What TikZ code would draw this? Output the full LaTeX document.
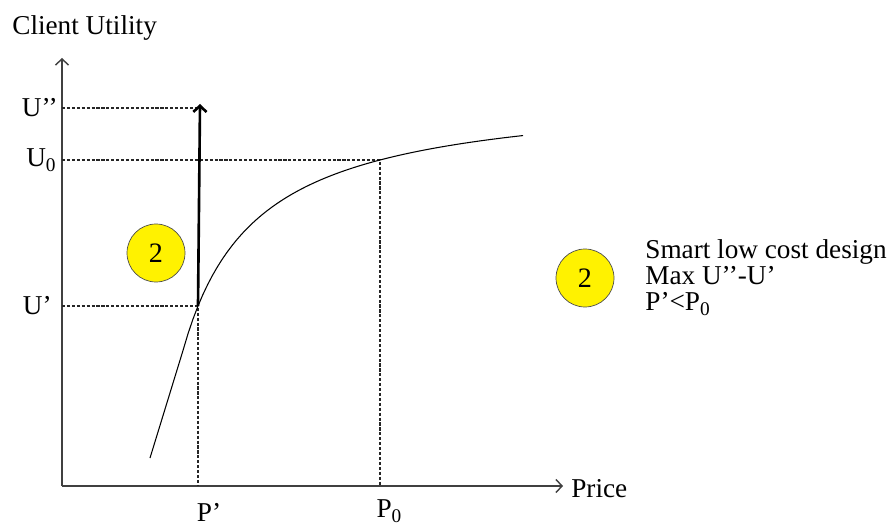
\documentclass[tikz,border=0pt]{standalone}
\usepackage{fontspec}
\setmainfont{Liberation Serif}
\usetikzlibrary{positioning,arrows.meta}
\newcommand{\lowsub}[1]{\raisebox{-0.4ex}{\fontsize{11}{11}\selectfont #1}}

\begin{document}
\begin{tikzpicture}[x=0.02cm,y=-0.02cm,
  lbl/.style={font=\fontsize{15.5}{16}\selectfont,inner sep=0pt},
  guide/.style={dash pattern=on 1.8pt off 1pt,black!85,line width=0.6pt},
  tip/.style={-{Straight Barb[length=3.5pt,width=7.5pt]}},
  axis/.style={tip,line width=0.8pt,black!75},
  badge/.style={circle,draw=black!70,fill=yellow,minimum size=1.16cm,inner sep=0pt,font=\fontsize{16}{16}\selectfont}]
\useasboundingbox (0,0) rectangle (896,527);
% Axes
\coordinate (O) at (62,486);
\coordinate (ytop) at (62,58);
\coordinate (xend) at (563,486);
\draw[axis] (O) -- (ytop);
\draw[axis] (O) -- (xend);
\node[lbl,anchor=west] (yname) at (12,28) {Client Utility};
\node[lbl,anchor=west] (xname) at (571,489) {Price};

% Points
\coordinate (A) at (198,306);   % P', U'
\coordinate (B) at (380,160);   % P0, U0
\coordinate (C) at (200,104);   % U''
\coordinate (yA) at (62,306);
\coordinate (yB) at (62,160);
\coordinate (yC) at (62,108);
\coordinate (xA) at (198,486);
\coordinate (xB) at (380,486);
\coordinate (Cd) at (200,108);

% Guides
\draw[guide] (yC) -- (Cd);
\draw[guide] (yB) -- (B) -- (xB);
\draw[guide] (yA) -- (A) -- (xA);

\node[lbl,anchor=east] (uCC) at (58,108) {U’’};
\node[lbl,anchor=east] (uB) at (56,160) {U\lowsub{0}};
\node[lbl,anchor=east] (uA) at (52,306) {U’};
\node[lbl,anchor=base] (pA) at (209,521) {P’};
\node[lbl,anchor=base] (pB) at (389,517) {P\lowsub{0}};

% Utility curve
\draw[line width=0.6pt] (150,458) -- plot[domain=183:523,samples=70]
  (\x,{89.4+190.6/(\x-110)*100});

% Gain
\draw[tip,line width=1.5pt] (A) -- (C);

% Badges
\node[badge] (b1) at (156,253) {2};
\node[badge] (b2) at (585,278) {2};
\node[lbl,anchor=base west] (n1) at (645,258) {Smart low cost design};
\node[lbl,anchor=base west] (n2) at (645,284) {Max U’’-U’};
\node[lbl,anchor=base west] (n3) at (645,310) {P’<P\lowsub{0}};
\end{tikzpicture}
\end{document}
